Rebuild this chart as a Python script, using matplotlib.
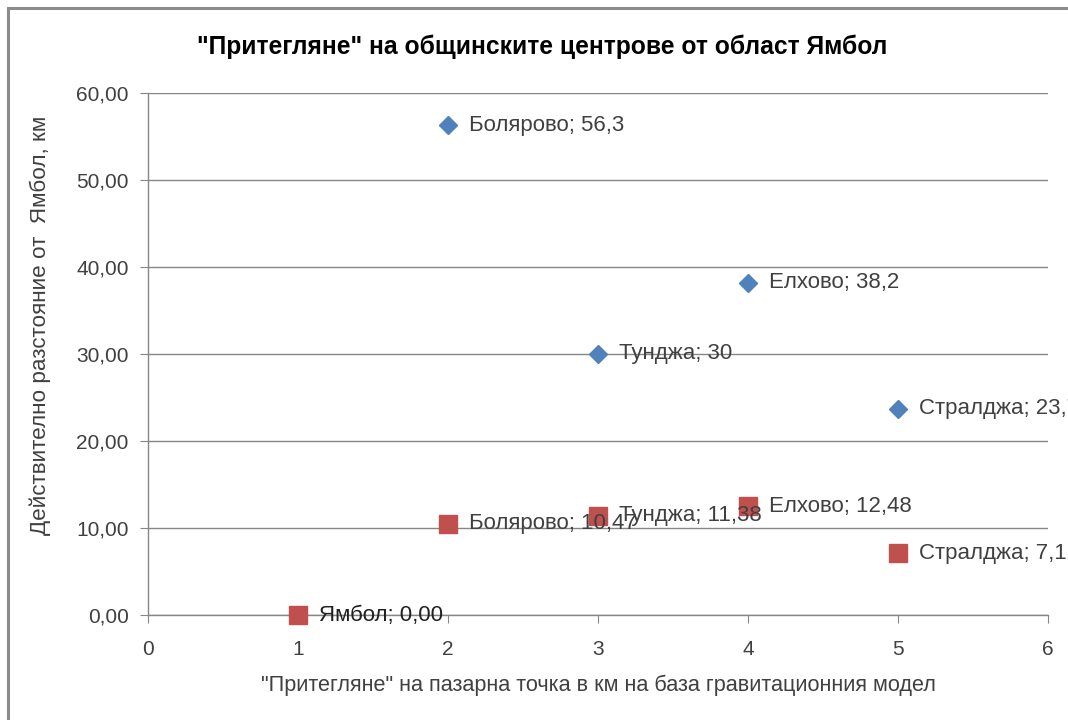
import matplotlib
matplotlib.use("Agg")
import matplotlib.pyplot as plt
from matplotlib.patches import Rectangle

plt.rcParams['font.family'] = ['Liberation Sans', 'DejaVu Sans']

title = '"Притегляне" на общинските центрове от област Ямбол'
xlabel = '"Притегляне" на пазарна точка в км на база гравитационния модел'
ylabel = 'Действително разстояние от  Ямбол, км'

# Series 1: actual distances (blue diamonds)
s1_names = ['Болярово', 'Тунджа', 'Елхово', 'Стралджа']
s1_x = [2, 3, 4, 5]
s1_y = [56.3, 30, 38.2, 23.7]
s1_lbl = ['56,3', '30', '38,2', '23,7']

# Series 2: gravitational model (red squares)
s2_names = ['Ямбол', 'Болярово', 'Тунджа', 'Елхово', 'Стралджа']
s2_x = [1, 2, 3, 4, 5]
s2_y = [0.00, 10.47, 11.38, 12.48, 7.12]
s2_lbl = ['0,00', '10,47', '11,38', '12,48', '7,12']

yticks = [0, 10, 20, 30, 40, 50, 60]
ytick_labels = ['0,00', '10,00', '20,00', '30,00', '40,00', '50,00', '60,00']
xticks = [0, 1, 2, 3, 4, 5, 6]

W, H = 1068, 720
fig = plt.figure(figsize=(W / 100, H / 100), dpi=100)
ax = fig.add_axes([148 / W, 1 - 615 / H, 900 / W, 522 / H])

grid_c = '#868686'
txt_c = '#404040'

# chart-area border
fig.patches.append(Rectangle((8 / W, -0.1), 1.2, (720 - 8) / H + 0.1, transform=fig.transFigure,
                             fill=False, edgecolor='#8c8c8c', linewidth=2.2, zorder=0))

ax.set_xlim(0, 6)
ax.set_ylim(0, 60)
ax.set_yticks(yticks)
ax.set_yticklabels(ytick_labels)
ax.set_xticks(xticks)
ax.yaxis.grid(True, color=grid_c, linewidth=1.0)
ax.set_axisbelow(True)
for s in ['top', 'right']:
    ax.spines[s].set_visible(False)
for s in ['left', 'bottom']:
    ax.spines[s].set_color(grid_c)
    ax.spines[s].set_linewidth(1.0)
ax.tick_params(axis='y', direction='out', length=6, color=grid_c, labelsize=15, labelcolor=txt_c, pad=8)
ax.tick_params(axis='x', direction='out', length=6, color=grid_c, labelsize=15, labelcolor=txt_c, pad=12)

ax.plot(s1_x, s1_y, linestyle='none', marker='D', markersize=9.5, color='#4F81BD', clip_on=False, zorder=3)
ax.plot(s2_x, s2_y, linestyle='none', marker='s', markersize=13.5, color='#C0504D', clip_on=False, zorder=3)

for n, x, y, l in zip(s1_names, s1_x, s1_y, s1_lbl):
    ax.annotate(f'{n}; {l}', (x, y), xytext=(15, 0), textcoords='offset points',
                va='center', ha='left', fontsize=16, color=txt_c, annotation_clip=False, zorder=4)
for n, x, y, l in zip(s2_names, s2_x, s2_y, s2_lbl):
    ax.annotate(f'{n}; {l}', (x, y), xytext=(15, 0), textcoords='offset points',
                va='center', ha='left', fontsize=16, color=txt_c if n != 'Ямбол' else '#202020',
                annotation_clip=False, zorder=4)

fig.text(542 / W, 1 - 47 / H, title, ha='center', va='center', fontsize=17.7, fontweight='bold', color='black')
fig.text(598 / W, 1 - 685 / H, xlabel, ha='center', va='center', fontsize=15.6, color=txt_c)
fig.text(40 / W, 1 - 325 / H, ylabel, ha='center', va='center', rotation=90, fontsize=16.2, color=txt_c)

fig.savefig('out.png', dpi=100)
